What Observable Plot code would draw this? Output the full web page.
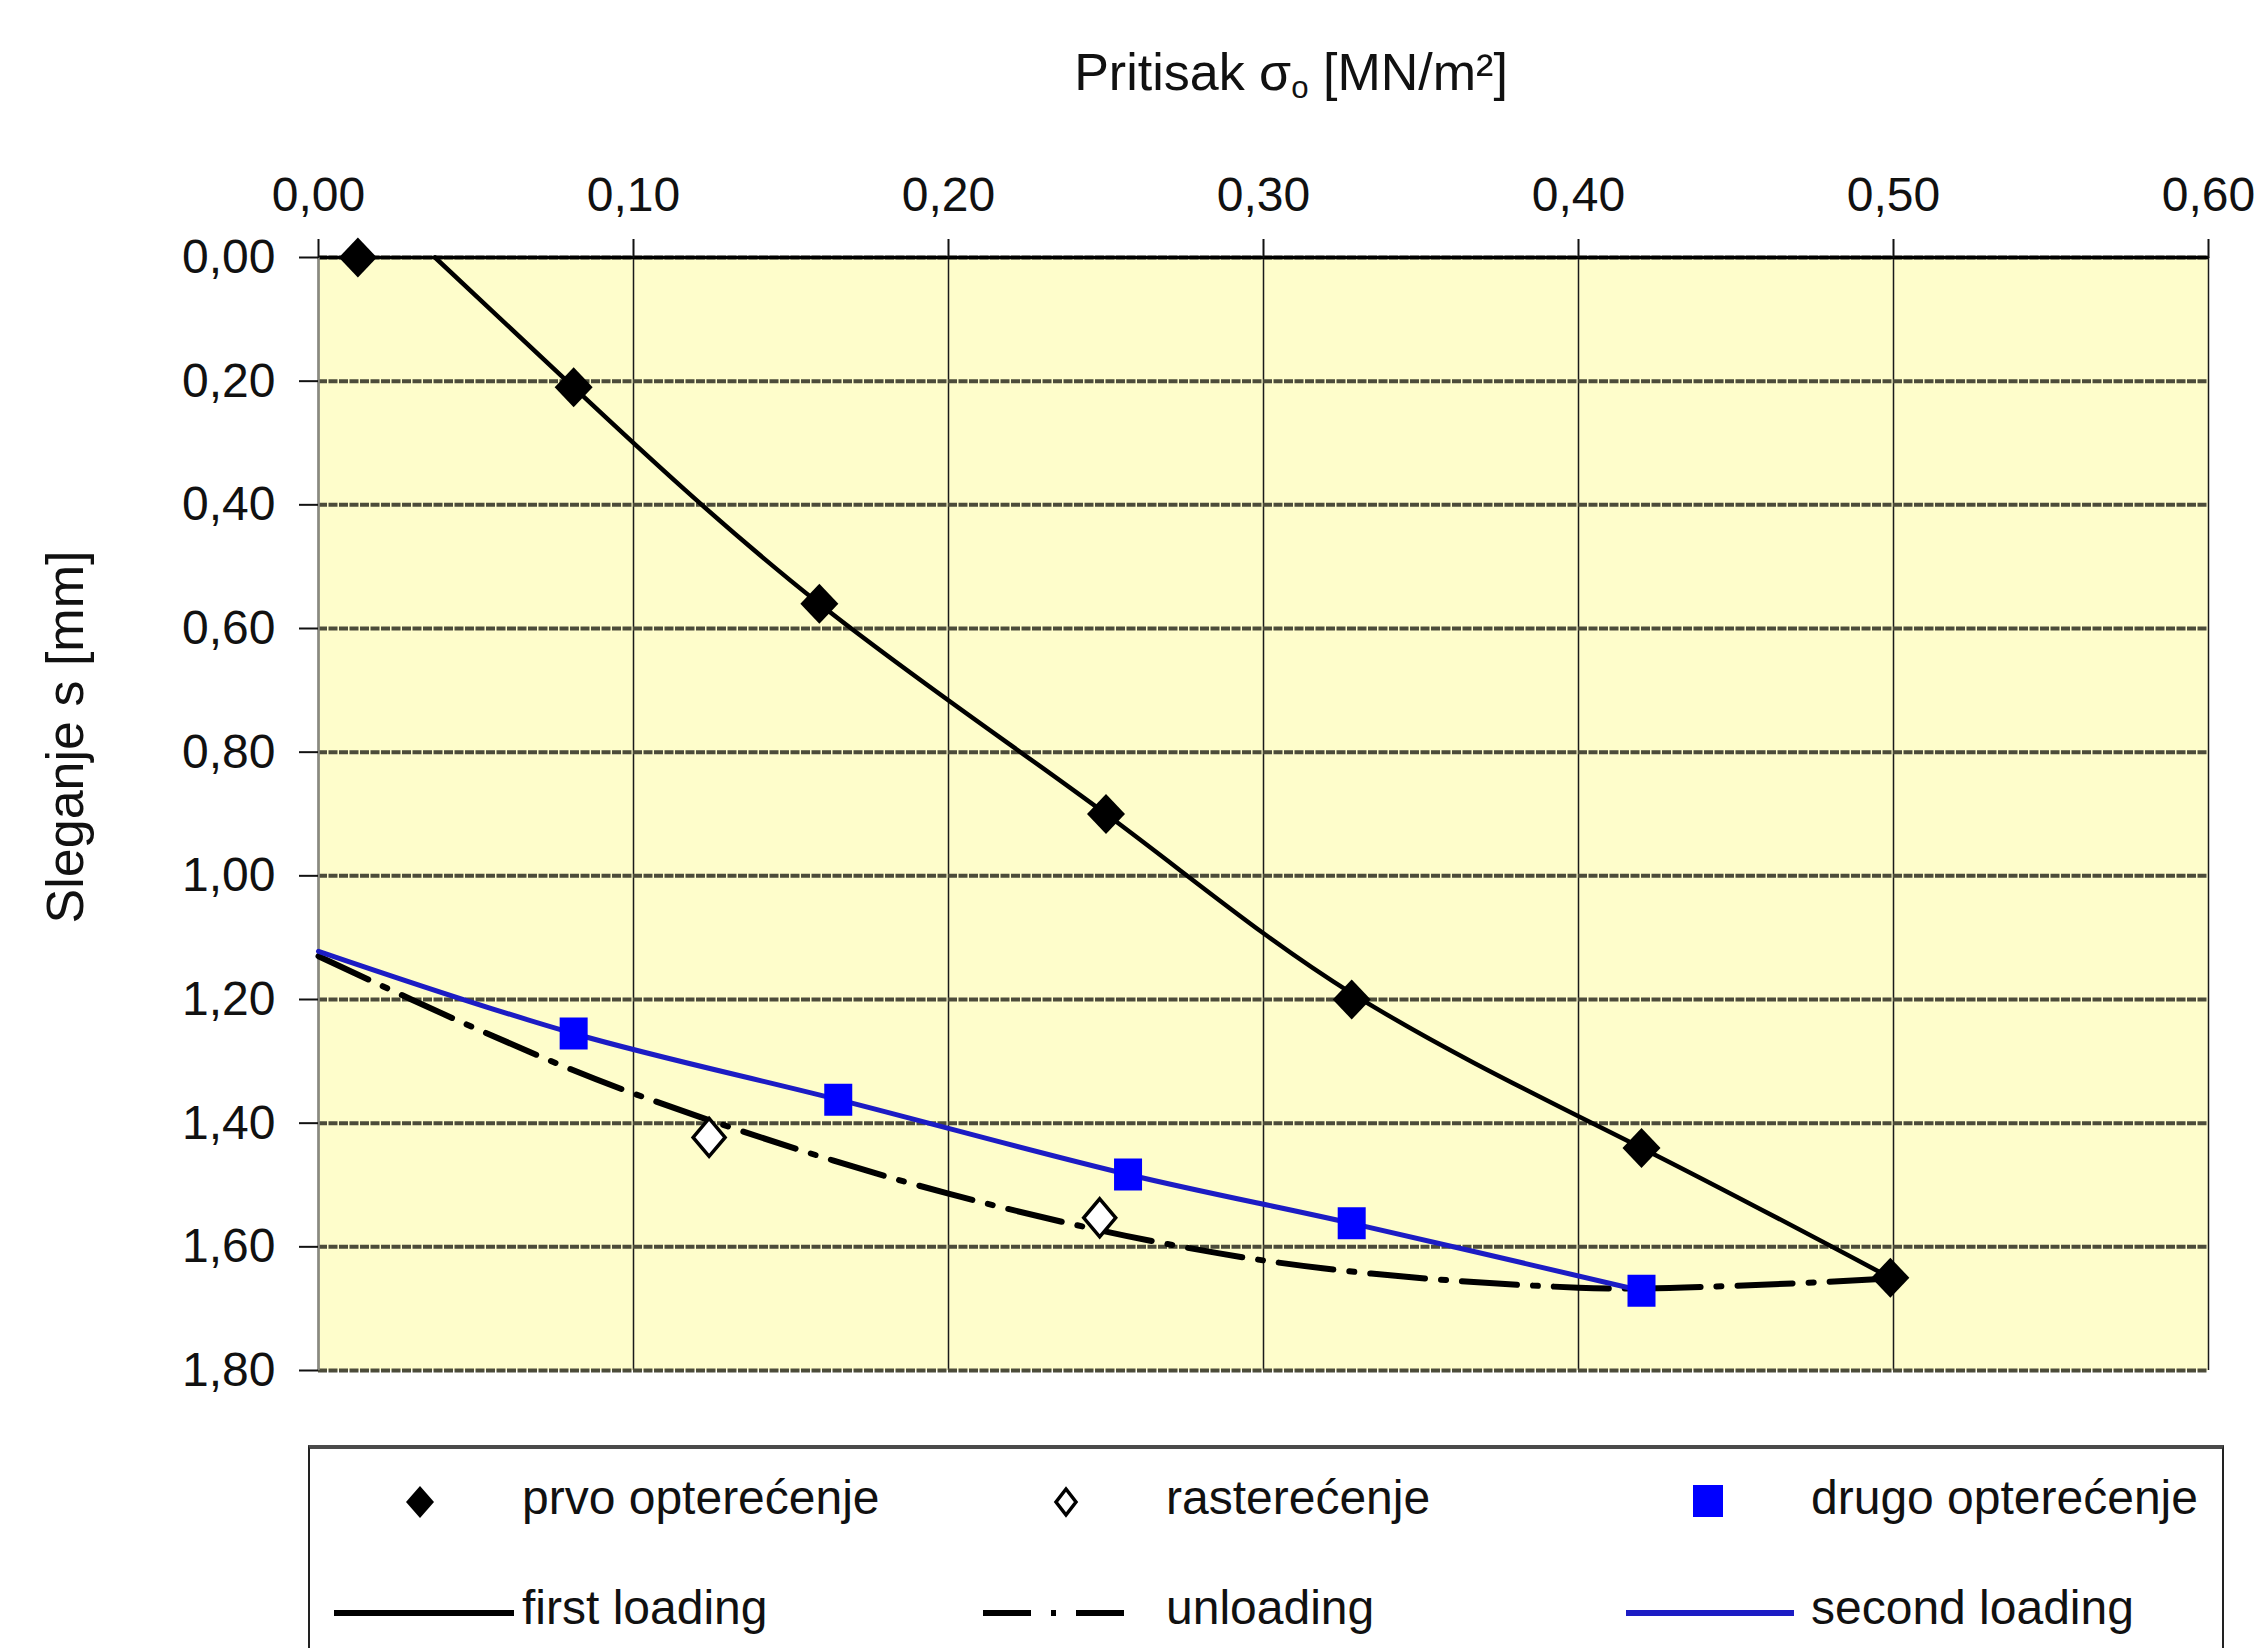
<!DOCTYPE html>
<html>
<head>
<meta charset="utf-8">
<script src="https://cdn.jsdelivr.net/npm/d3@7"></script>
<script src="https://cdn.jsdelivr.net/npm/@observablehq/plot@0.6"></script>
<style>
html, body { margin: 0; padding: 0; background: #fff; }
body { width: 2266px; height: 1648px; overflow: hidden; position: relative;
       font-family: "Liberation Sans", Arial, sans-serif; color: #111; }
#title { height: 130px; position: relative; }
#title .t { position: absolute; left: 1291px; top: 46px; transform: translateX(-50%);
            white-space: nowrap; font-size: 52px; line-height: 1; }
#title sub { font-size: 0.6em; vertical-align: -0.25em; line-height: 0; }
#ytitle { position: absolute; left: -235px; top: 711px; width: 600px; height: 52px;
          text-align: center; font-size: 52px; line-height: 52px; white-space: nowrap;
          transform: rotate(-90deg); transform-origin: 50% 50%; }
#legendbox { position: absolute; left: 308px; top: 1445px; width: 1916px; height: 260px;
             box-sizing: border-box; border-top: 4px solid #4a4a4a;
             border-left: 2px solid #222; border-right: 2px solid #222; }
.lt { position: absolute; font-size: 48px; line-height: 48px; white-space: nowrap; }
.ls { position: absolute; overflow: visible; }
</style>
</head>
<body>
<div id="title"><div class="t">Pritisak σ<sub>o</sub> [MN/m²]</div></div>
<div id="chart"></div>
<div id="ytitle">Sleganje s [mm]</div>
<div id="legendbox"></div>
<div id="legend"></div>
<script>
// ---- data ----
const xTicks = [0, 0.1, 0.2, 0.3, 0.4, 0.5, 0.6];
const xTickLabels = ["0,00", "0,10", "0,20", "0,30", "0,40", "0,50", "0,60"];
const yTicks = [0, 0.2, 0.4, 0.6, 0.8, 1.0, 1.2, 1.4, 1.6, 1.8];
const yTickLabels = ["0,00", "0,20", "0,40", "0,60", "0,80", "1,00", "1,20", "1,40", "1,60", "1,80"];

// measured points
const firstX = [0.0125, 0.081, 0.159, 0.250, 0.328, 0.420, 0.499];
const firstY = [0.00, 0.21, 0.56, 0.90, 1.20, 1.44, 1.65];
const unloadX = [0.124, 0.248];
const unloadY = [1.423, 1.553];
const secondX = [0.081, 0.165, 0.257, 0.328, 0.420];
const secondY = [1.255, 1.362, 1.483, 1.562, 1.671];

// fitted curves
const firstFitX = [0.037, 0.081, 0.159, 0.250, 0.328, 0.420, 0.499];
const firstFitY = [0.00, 0.21, 0.56, 0.90, 1.19, 1.44, 1.65];
const unloadFitX = [0.00, 0.05, 0.10, 0.20, 0.30, 0.40, 0.45, 0.499];
const unloadFitY = [1.13, 1.247, 1.352, 1.514, 1.622, 1.666, 1.663, 1.651];
const secondFitX = [0.00, 0.081, 0.165, 0.257, 0.328, 0.420];
const secondFitY = [1.122, 1.255, 1.362, 1.483, 1.562, 1.671];

const legendLabels = ["prvo opterećenje", "rasterećenje", "drugo opterećenje",
                      "first loading", "unloading", "second loading"];

// ---- helpers ----
const pts = (xs, ys) => xs.map((x, i) => ({x, y: ys[i]}));
const fmtX = d => xTickLabels[xTicks.findIndex(t => Math.abs(t - d) < 1e-9)];
const fmtY = d => yTickLabels[yTicks.findIndex(t => Math.abs(t - d) < 1e-9)];

const diamondBig = {draw(ctx) { const w = 19, h = 20;
  ctx.moveTo(0, -h); ctx.lineTo(w, 0); ctx.lineTo(0, h); ctx.lineTo(-w, 0); ctx.closePath(); }};
const diamondOpen = {draw(ctx) { const w = 16, h = 19;
  ctx.moveTo(0, -h); ctx.lineTo(w, 0); ctx.lineTo(0, h); ctx.lineTo(-w, 0); ctx.closePath(); }};
const squareSym = {draw(ctx) { const w = 14, h = 16;
  ctx.moveTo(-w, -h); ctx.lineTo(w, -h); ctx.lineTo(w, h); ctx.lineTo(-w, h); ctx.closePath(); }};

const BLUE_LINE = "#1c1cc4";
const BLUE_SQ = "#0000ff";
const DASHDOT = "55,16,5,16";

const chart = Plot.plot({
  width: 2266,
  height: 1290,
  marginTop: 127,
  marginBottom: 50,
  marginLeft: 318,
  marginRight: 58,
  style: {fontFamily: '"Liberation Sans", Arial, sans-serif', fontSize: "48px", color: "#111", background: "#fff", overflow: "visible"},
  x: {domain: [0, 0.6]},
  y: {domain: [0, 1.8], reverse: true},
  marks: [
    Plot.frame({fill: "#fefdcb", stroke: null}),
    Plot.gridX({ticks: xTicks, stroke: "#1a1a1a", strokeWidth: 1.5, strokeOpacity: 1}),
    Plot.gridY({ticks: yTicks, stroke: "#4c4c3a", strokeWidth: 4, strokeOpacity: 1, strokeDasharray: "9,1.5"}),
    Plot.ruleY([0], {stroke: "#000", strokeWidth: 3.5}),
    Plot.ruleX([0], {stroke: "#8a8a80", strokeWidth: 2.5}),
    Plot.line(pts(firstFitX, firstFitY), {x: "x", y: "y", stroke: "#000", strokeWidth: 4.5, curve: "natural"}),
    Plot.line(pts(unloadFitX, unloadFitY), {x: "x", y: "y", stroke: "#000", strokeWidth: 6, strokeDasharray: DASHDOT, curve: "catmull-rom"}),
    Plot.line(pts(secondFitX, secondFitY), {x: "x", y: "y", stroke: BLUE_LINE, strokeWidth: 5, curve: "catmull-rom"}),
    Plot.dot(pts(unloadX, unloadY), {x: "x", y: "y", symbol: diamondOpen, fill: "#fff", stroke: "#000", strokeWidth: 3.5}),
    Plot.dot(pts(secondX, secondY), {x: "x", y: "y", symbol: squareSym, fill: BLUE_SQ, stroke: "none"}),
    Plot.dot(pts(firstX, firstY), {x: "x", y: "y", symbol: diamondBig, fill: "#000", stroke: "none"}),
    Plot.axisX({anchor: "top", ticks: xTicks, tickFormat: fmtX, tickSize: 19, tickPadding: 28, fontSize: 48, label: null, stroke: "#111", strokeWidth: 2}),
    Plot.axisY({anchor: "left", ticks: yTicks, tickFormat: fmtY, tickSize: 19, tickPadding: 24, fontSize: 48, label: null, stroke: "#111", strokeWidth: 2})
  ]
});
document.getElementById("chart").appendChild(chart);

// ---- legend ----
const leg = document.getElementById("legend");
function addText(txt, left, baseline) {
  const s = document.createElement("div");
  s.className = "lt"; s.textContent = txt;
  s.style.left = left + "px"; s.style.top = (baseline - 41) + "px";
  leg.appendChild(s);
}
function addSvg(left, top, w, h, inner) {
  const d = document.createElement("div");
  d.className = "ls"; d.style.left = left + "px"; d.style.top = top + "px";
  d.innerHTML = `<svg width="${w}" height="${h}" viewBox="0 0 ${w} ${h}">${inner}</svg>`;
  leg.appendChild(d);
}
const row1 = 1515, row2 = 1625;
const col = [522, 1166, 1811];
addText(legendLabels[0], col[0], row1);
addText(legendLabels[1], col[1], row1);
addText(legendLabels[2], col[2], row1);
addText(legendLabels[3], col[0], row2);
addText(legendLabels[4], col[1], row2);
addText(legendLabels[5], col[2], row2);
// symbols
addSvg(420 - 20, 1502 - 20, 40, 40, `<path d="M20,4 L34,20 L20,36 L6,20 Z" fill="#000"/>`);
addSvg(1066 - 20, 1502 - 20, 40, 40, `<path d="M20,7 L30,20 L20,33 L10,20 Z" fill="#fff" stroke="#000" stroke-width="3.5"/>`);
addSvg(1708 - 20, 1501 - 20, 40, 40, `<rect x="5" y="4" width="30" height="32" fill="${BLUE_SQ}"/>`);
addSvg(334, 1613 - 10, 182, 20, `<line x1="0" y1="10" x2="180" y2="10" stroke="#000" stroke-width="6"/>`);
addSvg(983, 1613 - 10, 146, 20, `<line x1="0" y1="10" x2="144" y2="10" stroke="#000" stroke-width="6" stroke-dasharray="48,20,5,20"/>`);
addSvg(1626, 1613 - 10, 170, 20, `<line x1="0" y1="10" x2="168" y2="10" stroke="${BLUE_LINE}" stroke-width="6"/>`);
</script>
</body>
</html>
